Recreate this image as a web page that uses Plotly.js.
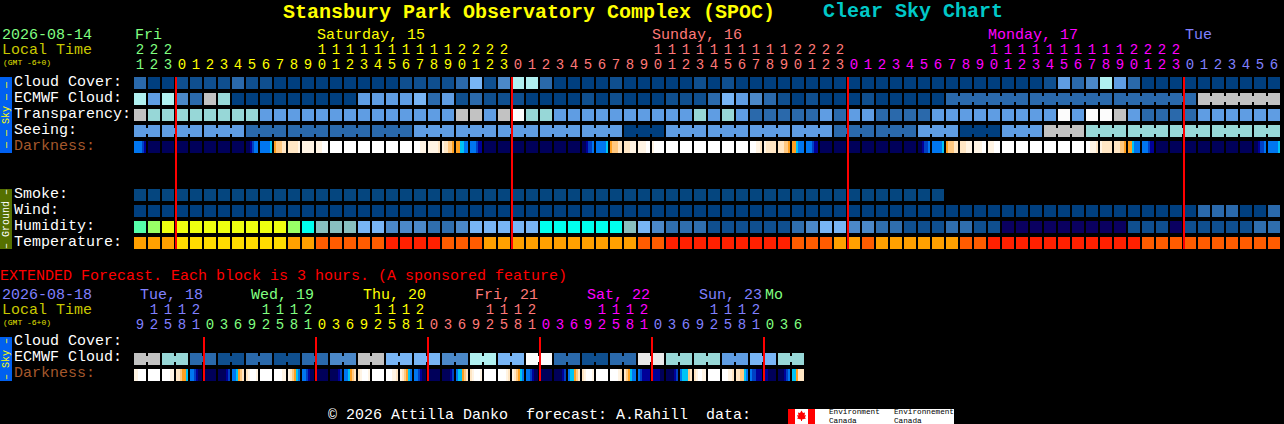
<!DOCTYPE html>
<html>
<head>
<meta charset="utf-8">
<script src="https://cdn.plot.ly/plotly-3.0.1.min.js"></script>
<style>html,body{margin:0;padding:0;background:#000;overflow:hidden}#chart{width:1284px;height:424px}</style>
</head>
<body>
<div id="chart"></div>
<script>
// ---------- data ----------
const hours = [21,22,23,0,1,2,3,4,5,6,7,8,9,10,11,12,13,14,15,16,17,18,19,20,21,22,23,0,1,2,3,4,5,6,7,8,9,10,11,12,13,14,15,16,17,18,19,20,21,22,23,0,1,2,3,4,5,6,7,8,9,10,11,12,13,14,15,16,17,18,19,20,21,22,23,0,1,2,3,4,5,6];
const extHours = [9,12,15,18,21,0,3,6,9,12,15,18,21,0,3,6,9,12,15,18,21,0,3,6,9,12,15,18,21,0,3,6,9,12,15,18,21,0,3,6,9,12,15,18,21,0,3,6];
const cloudCover = [2,0,0,1,1,1,1,2,1,1, 0,0,0,0,0,0,0,0,0,1, 1,1,1,2,5,1,3,6,6,2, 0,0,0,0,1,0,0,0,0,0, 1,0,1,0,0,0,0,0,0,0, 0,0,0,0,0,0,0,0,0,0, 0,0,0,0,0,1,4,2,3,6, 4,2,0,0,0,0,0,0,0,0,0,0];
const ecmwfCloud = [6,4,6,3,2,8,7,0,0,0, 0,0,0,0,0,0,4,4,4,4, 5,2,4,1,2,1,1,1,0,0, 0,0,1,0,1,0,0,0,1,1, 1,2,5,4,3,2,1,0,1,0, 0,0,1,0,0,0,0,0,2,2, 2,2,2,2,2,2,2,2,2,2, 2,2,2,2,2,2,8,8,8,8,8,8];
const transparency = [8,7,7,7,7,7,7,7,7,4, 4,4,4,4,4,4,4,4,4,4, 4,4,4,8,8,4,8,10,7,7, 4,4,4,4,4,4,4,4,4,4, 7,4,7,4,2,2,2,2,2,4, 2,4,4,2,2,2,2,4,4,4, 4,4,4,4,4,4,10,4,10,10, 8,4,2,2,2,2,4,4,4,4,4,4];
const seeing = [4,4,4,4,4,4,4,4,2,2, 2,2,2,2,2,2,2,2,2,2, 4,4,4,4,4,4,4,4,4,4, 4,4,4,4,4,0,0,0,4,4, 4,4,4,4,4,4,4,4,4,4, 2,2,2,2,2,2,4,4,4,0, 0,0,4,4,4,8,8,8,7,7, 7,7,7,7,7,7,7,7,7,7,7,7];
const smoke = [0,0,0,0,0,0,0,0,0,0, 0,0,0,0,0,0,0,0,0,0, 0,0,0,0,0,0,0,0,0,0, 0,0,0,0,0,0,0,0,0,0, 0,0,0,0,0,0,0,0,0,0, 0,0,0,0,0,0,0,0];
const wind = [0,0,0,0,0,0,0,0,0,0, 0,0,0,0,0,0,0,0,0,0, 0,0,0,0,0,0,0,0,0,0, 0,0,0,0,0,0,0,0,0,0, 0,0,0,0,0,0,0,0,0,0, 0,0,0,0,0,0,0,0,0,0, 0,0,0,0,0,0,0,0,0,0, 0,0,0,0,0,0,2,2,2,0,0,2];
const humidity = [7,8,9,9,9,9,9,9,9,9, 9,8,6,5,5,5,4,4,3,3, 3,2,2,3,4,4,4,4,4,6, 6,6,6,6,6,5,4,3,2,2, 2,1,1,1,1,1,1,2,3,4, 4,3,3,2,2,1,1,1,2,2, 1,1,0,0,0,0,0,0,0,0, 0,1,1,1,0,1,1,1,1,1,2,2];
const temperature = [2,2,2,3,3,3,3,3,3,3, 3,2,2,1,1,1,1,1,0,0, 0,0,1,1,1,2,2,2,2,2, 2,2,2,2,2,2,1,1,0,0, 0,0,0,0,0,0,0,1,1,1, 2,2,1,2,2,2,2,2,2,1, 1,0,0,0,0,0,0,0,0,0, 0,0,1,1,1,1,1,1,1,1,1,1];
// darkness level across each block, six readings per block (0 day ... 9 full dark)
const darkness = ['666678','999999','999999','999999','999999','999999','999999','999999','998766','666665',
 '433322','222221','111111','111000','000000','000000','000000','000000','000000','000000',
 '000111','111112','122334','445566','666788','999999','999999','999999','999999','999999',
 '999999','999999','998776','666665','433322','222111','111100','100000','000000','000000',
 '000000','000000','000000','000000','000112','122222','222334','445666','666788','999999',
 '999999','999999','999999','999999','999999','999999','998776','666665','433322','222111',
 '111100','111000','000000','000000','000000','000000','000000','000000','001112','122222',
 '222334','445666','666788','999999','999999','999999','999999','999999','999999','999999',
 '998776','666665'];
const extEcmwf = [8,8,7,7,2,2,1,1,2,2,1,1,2,2,3,3,8,8,5,5,5,5,3,3,6,6,5,5,10,10,2,2,1,1,2,2,9,9,7,7,7,7,4,4,5,5,7,7];
const extDarkness = ['110000','000000','000011','223445','667899','999999','999987','665432',
 '210001','000000','000011','123456','667899','999999','999987','665432',
 '210001','000000','000112','123456','667899','999999','999987','655432',
 '210001','000000','000012','123456','667899','999999','999987','655432',
 '210001','000000','000012','234566','678888','888899','999987','655532',
 '210011','000000','000112','223356','677888','889999','999876','554222'];
const dayStarts = [0,3,27,51,75];
const dayColors = ['#80ff80','#ffff00','#ff7878','#ff00ff','#8080ff'];
const extDayStarts = [0,5,13,21,29,37,45];
const extDayColors = ['#8080ff','#80ff80','#ffff00','#ff7878','#ff00ff','#8080ff','#80ff80'];
const dayLabels = [['Fri',135,'#80ff80'],['Saturday, 15',317,'#ffff00'],['Sunday, 16',652,'#ff7878'],['Monday, 17',988,'#ff00ff'],['Tue',1185,'#8080ff']];
const extDayLabels = [['Tue, 18',140,'#8080ff'],['Wed, 19',251,'#80ff80'],['Thu, 20',363,'#ffff00'],['Fri, 21',475,'#ff7878'],['Sat, 22',587,'#ff00ff'],['Sun, 23',699,'#8080ff'],['Mo',765,'#80ff80']];
const midnights = [3,27,51,75];
const extMidnights = [5,13,21,29,37,45];

// ---------- palettes ----------
const skyPalette = ['#003f7f','#0f4f8f','#2a69ab','#4b88c8','#5f9de3','#78b5f5','#b0f0f0','#97d7d7','#c2c2c2','#e9e9e9','#fcfcfc'];
const humidityPalette = ['#0a0060','#0f4f8f','#2f6eae','#4b88c8','#78b5f5','#88bfbf','#00ffee','#55ffaa','#99ff66','#eeff10'];
const temperaturePalette = ['#ff2000','#ff5c00','#ffa000','#ffdc00'];
const smokePalette = ['#05467f','#05467f'];
const darknessPalette = ['#ffffff','#fff4e4','#ffe6c4','#ffc880','#ffa020','#00c4f4','#0076f0','#0040c4','#000098','#00005a'];
const toScale = p => p.map((c,i)=>[i/(p.length-1),c]);

// ---------- geometry: 14 px per block, block 0 centred on px 140, y axis in px rows ----------
const FONT = '"Liberation Mono", monospace';
const pxX = px => (px-140)/14;
const traces = [], annotations = [], shapes = [];

function row(name, values, top, palette){
  traces.push({type:'bar',name,x:values.map((_,i)=>i),y:values.map(()=>12),base:values.map(()=>top),width:12/14,
    marker:{color:values,colorscale:toScale(palette),cmin:0,cmax:palette.length-1,line:{width:0}},
    hoverinfo:'skip',showlegend:false});
}
function joins(name, values, top, palette, sameGroup){
  const idx = values.map((_,i)=>i).filter(i=>i<values.length-1 && sameGroup(i));
  traces.push({type:'bar',name:name+' joins',x:idx.map(i=>i+0.5),y:idx.map(()=>6),base:idx.map(()=>top+3),width:4/14,
    marker:{color:idx.map(i=>values[i]),colorscale:toScale(palette),cmin:0,cmax:palette.length-1,line:{width:0}},
    hoverinfo:'skip',showlegend:false});
}
function dark(name, blocks, top){
  const z=[];
  blocks.forEach(b=>{ for(const ch of b) z.push(+ch); z.push(null); });
  traces.push({type:'heatmap',name,z:[z],x0:-5/14,dx:2/14,y0:top+6,dy:12,zmin:0,zmax:9,colorscale:toScale(darknessPalette),
    showscale:false,zsmooth:false,hoverinfo:'skip'});
}
function digits(hrs, starts, colors, yTens, yUnits){
  const colorOf = i => { let c=0; starts.forEach((s,k)=>{ if(i>=s) c=k; }); return colors[c]; };
  const cols = hrs.map((_,i)=>i);
  const tens = cols.filter(i=>hrs[i]>=10);
  traces.push({type:'scatter',mode:'text',x:tens,y:tens.map(()=>yTens),text:tens.map(i=>String(Math.floor(hrs[i]/10))),
    textposition:'middle center',textfont:{family:FONT,size:14,color:tens.map(colorOf)},hoverinfo:'skip',showlegend:false,cliponaxis:false});
  traces.push({type:'scatter',mode:'text',x:cols,y:cols.map(()=>yUnits),text:hrs.map(h=>String(h%10)),
    textposition:'middle center',textfont:{family:FONT,size:14,color:cols.map(colorOf)},hoverinfo:'skip',showlegend:false,cliponaxis:false});
}
function label(text, px, y, color, size, extra){
  annotations.push(Object.assign({text,x:pxX(px),y,xref:'x',yref:'y',showarrow:false,xanchor:'left',yanchor:'middle',
    borderpad:0,borderwidth:0,font:{family:FONT,size:size||15,color:color||'#ffffff'}},extra||{}));
}
function box(x0,x1,y0,y1,color,layer){
  shapes.push({type:'rect',xref:'x',yref:'y',x0:pxX(x0),x1:pxX(x1),y0,y1,fillcolor:color,line:{width:0},layer:layer||'below'});
}

// ---------- main forecast ----------
row('Cloud Cover',cloudCover,77,skyPalette);
row('ECMWF Cloud',ecmwfCloud,93,skyPalette);
joins('ECMWF Cloud',ecmwfCloud,93,skyPalette,i=>i>=58 && (i-58)%6!==5);
row('Transparency',transparency,109,skyPalette);
row('Seeing',seeing,125,skyPalette);
joins('Seeing',seeing,125,skyPalette,i=>i%3!==1);
dark('Darkness',darkness,141);
row('Smoke',smoke,189,smokePalette);
row('Wind',wind,205,skyPalette);
row('Humidity',humidity,221,humidityPalette);
row('Temperature',temperature,237,temperaturePalette);
digits(hours,dayStarts,dayColors,50,65);

// ---------- extended forecast ----------
row('Extended ECMWF',extEcmwf,353,skyPalette);
joins('Extended ECMWF',extEcmwf,353,skyPalette,i=>i%2===0);
dark('Extended Darkness',extDarkness,369);
digits(extHours,extDayStarts,extDayColors,310,325);

// ---------- midnight lines ----------
midnights.forEach(c=>shapes.push({type:'line',xref:'x',yref:'y',x0:c-6/14,x1:c-6/14,y0:77,y1:249,line:{color:'#ff0000',width:2},layer:'above'}));
extMidnights.forEach(c=>shapes.push({type:'line',xref:'x',yref:'y',x0:c-6/14,x1:c-6/14,y0:337,y1:381,line:{color:'#ff0000',width:2},layer:'above'}));

// ---------- side panels ----------
box(0,12,77,153,'#0060f0');
box(0,12,189,249,'#557000');
box(0,12,337,381,'#0060f0');
const side=(t,y,c)=>annotations.push({text:t,x:pxX(6),y,xref:'x',yref:'y',showarrow:false,textangle:-90,xanchor:'center',yanchor:'middle',
  borderpad:0,font:{family:FONT,size:10,color:c}});
side('\u2014 \u2014 Sky \u2014 \u2014',115,'#ffff00');
side('\u2013 Ground \u2013',219,'#ffffff');
side('\u2013 Sky \u2013',359,'#ffff00');

// ---------- text ----------
annotations.push({text:'Clear Sky Chart',x:pxX(822),y:11,xref:'x',yref:'y',showarrow:false,xanchor:'left',yanchor:'middle',borderpad:0,
  font:{family:FONT,size:20,color:'#00c8c8',weight:700}});
label('2026-08-14',2,35,'#80ff80');
label('Local Time',2,50,'#c8c800');
label('(GMT -6+0)',3,62,'#e0e000',8);
dayLabels.forEach(d=>label(d[0],d[1],35,d[2]));
[['Cloud Cover:',82],['ECMWF Cloud:',98],['Transparency:',114],['Seeing:',130]].forEach(r=>label(r[0],14,r[1]));
label('Darkness:',14,146,'#a5582c');
[['Smoke:',194],['Wind:',210],['Humidity:',226],['Temperature:',242]].forEach(r=>label(r[0],14,r[1]));
label('EXTENDED Forecast. Each block is 3 hours. (A sponsored feature)',0,276,'#ff0000');
label('2026-08-18',2,295,'#8080ff');
label('Local Time',2,310,'#c8c800');
label('(GMT -6+0)',3,322,'#e0e000',8);
extDayLabels.forEach(d=>label(d[0],d[1],295,d[2]));
label('Cloud Cover:',14,341);
label('ECMWF Cloud:',14,357);
label('Darkness:',14,373,'#a5582c');
label('\u00a9 2026 Attilla Danko',328,415);
label('forecast: A.Rahill',526,415);
label('data:',706,415);

// ---------- logo ----------
box(815,954,409,424,'#ffffff');
box(788,795,409,424,'#ff0000');
box(795,808,409,424,'#ffffff');
box(808,815,409,424,'#ff0000');
const leaf=[[801.5,410.5],[803,413],[805,412.5],[804.5,415.5],[806,415],[805,417.5],[806,418.5],[802,419.5],[802,421],[801,421],[801,419.5],[797,418.5],[798,417.5],[797,415],[798.5,415.5],[798,412.5],[800,413]];
shapes.push({type:'path',xref:'x',yref:'y',path:leaf.map((p,i)=>(i?'L':'M')+pxX(p[0])+','+p[1]).join(' ')+' Z',fillcolor:'#ff0000',line:{width:0},layer:'below'});
const logoText=(t,px,y)=>annotations.push({text:t,x:pxX(px),y,xref:'x',yref:'y',showarrow:false,xanchor:'left',yanchor:'middle',borderpad:0,font:{family:FONT,size:7.7,color:'#000000'}});
logoText('Environment',828,412.3);logoText('Canada',828,421);logoText('Environnement',893,412.3);logoText('Canada',893,421);

const layout = {
  width:1284,height:424,paper_bgcolor:'#000000',plot_bgcolor:'#000000',
  margin:{l:0,r:0,t:0,b:0,pad:0},
  barmode:'overlay',bargap:0,showlegend:false,
  title:{text:'Stansbury Park Observatory Complex (SPOC)',x:283/1284,xref:'paper',xanchor:'left',y:1-11/424,yref:'paper',yanchor:'middle',
    pad:{t:0,b:0,l:0,r:0},font:{family:FONT,size:20,color:'#ffff00',weight:700}},
  xaxis:{range:[-10,1144/14],visible:false,fixedrange:true},
  yaxis:{range:[424,0],visible:false,fixedrange:true},
  annotations,shapes
};
Plotly.newPlot('chart',traces,layout,{displayModeBar:false,staticPlot:true,responsive:false});
</script>
</body>
</html>
